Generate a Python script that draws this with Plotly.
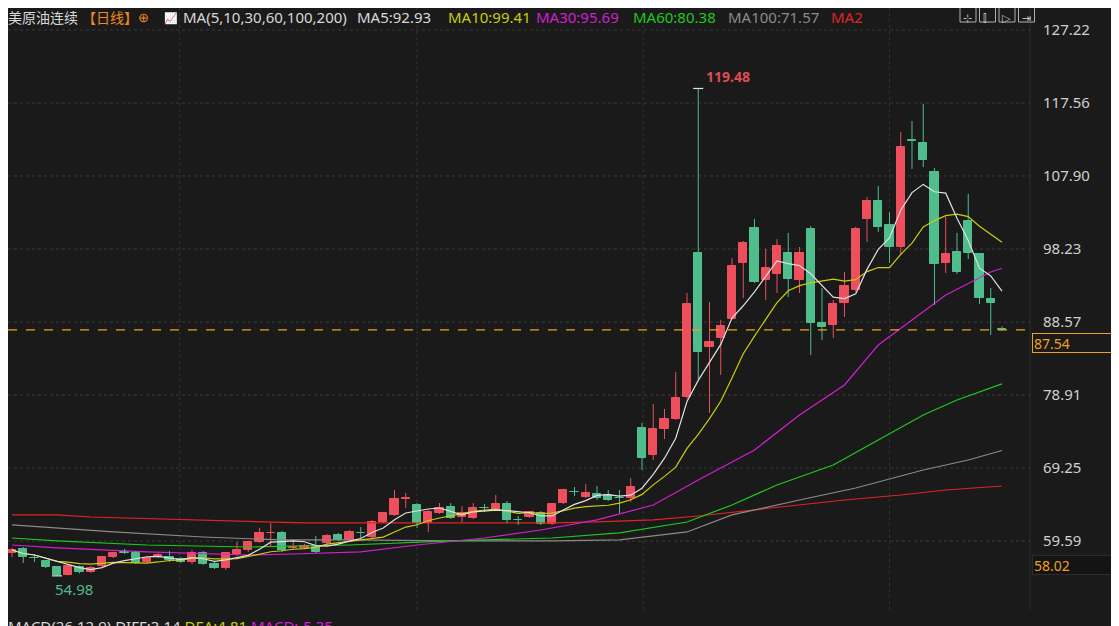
import plotly.graph_objects as go
import pandas as pd

opens = [58.01,58.53,57.40,56.95,56.15,55.10,56.15,55.49,56.29,57.48,58.14,58.01,56.82,57.48,57.48,57.21,56.82,58.01,56.55,56.02,
         57.87,58.40,59.46,60.60,60.66,58.67,58.67,58.80,59.33,60.39,59.73,60.70,60.12,62.11,63.04,65.20,64.36,61.98,63.30,64.09,
         62.77,62.64,64.00,63.70,64.49,62.42,62.77,63.30,61.85,64.62,66.12,65.42,65.81,65.68,65.32,65.28,74.55,70.97,74.42,75.74,
         78.65,97.71,85.27,86.46,88.97,96.39,101.02,94.14,94.93,97.71,94.14,100.88,88.44,88.18,91.09,92.81,102.21,104.59,101.41,98.50,
         112.60,112.27,108.43,96.39,97.84,101.94,97.58,91.62,87.70]
highs = [58.67,58.80,57.74,57.08,56.29,56.55,56.35,56.29,57.61,58.14,58.53,58.27,57.48,58.01,58.27,57.48,58.40,58.27,56.82,58.14,
         59.46,59.60,61.32,61.98,60.92,59.73,59.20,60.26,60.52,60.66,61.05,61.45,62.38,63.43,66.34,65.95,64.62,63.70,64.62,64.62,
         64.22,64.62,64.49,65.68,64.89,62.90,63.57,63.57,64.62,66.50,66.74,67.13,66.87,66.34,66.34,67.93,75.21,77.72,77.06,81.96,
         92.41,119.48,91.22,88.84,97.05,99.30,102.21,98.24,99.56,100.36,98.50,101.28,93.08,91.49,95.19,101.15,105.12,106.57,103.13,113.72,
         115.18,117.43,108.96,102.47,100.36,105.52,97.71,93.08,88.00]
lows = [57.48,56.68,56.82,56.02,54.98,55.05,55.30,55.36,56.15,57.34,57.87,56.55,56.68,57.34,56.82,56.68,56.55,56.42,55.89,55.76,
        57.61,58.14,59.33,58.80,58.14,58.53,58.53,58.01,59.06,59.60,59.60,59.99,59.99,61.98,62.90,63.96,61.32,60.79,63.17,62.51,
        62.11,62.51,63.43,63.57,61.98,61.72,62.64,61.72,61.72,64.49,65.55,65.28,65.02,64.89,63.30,64.75,68.99,70.31,73.09,75.60,
        78.40,81.03,76.53,81.56,88.84,91.75,93.74,91.49,92.41,91.88,92.41,84.21,86.20,86.46,89.24,92.55,99.16,100.49,96.39,97.44,
        108.83,109.09,90.83,95.06,94.93,96.91,90.96,86.86,87.40]
closes = [58.40,57.48,57.34,56.15,55.10,56.29,55.49,56.02,57.48,58.01,58.01,56.68,57.34,57.74,57.08,56.82,58.01,56.55,56.02,58.01,
          58.40,59.46,60.66,60.66,58.40,58.80,58.93,58.14,60.26,59.73,60.79,60.66,62.11,63.30,65.15,65.28,61.98,63.43,63.96,62.64,
          63.30,63.96,63.96,64.49,62.38,62.38,63.43,61.85,64.49,66.34,66.08,65.95,65.28,65.02,65.28,66.74,70.58,74.42,75.74,78.52,
          90.96,84.61,85.93,88.05,95.99,99.03,93.87,95.72,98.63,94.27,97.71,88.44,87.92,90.96,93.34,100.88,104.59,101.15,98.50,111.74,
          112.53,110.02,96.25,97.58,95.19,97.71,91.75,91.09,87.54]
idx = list(range(len(closes)))

# long moving averages (candle index, value)
ma30_x = [0,4,12,21,25,31,36,42,47,52,57,61,66,70,74,77,80,83,87,88]
ma30_y = [59.06,58.67,58.14,57.74,57.87,58.14,59.06,59.99,61.05,62.38,64.36,67.67,71.64,76.27,80.24,85.53,88.84,92.14,95.19,95.69]
ma60_x = [0,4,12,21,30,39,48,54,60,64,68,73,77,81,84,88]
ma60_y = [59.99,59.60,59.06,58.80,59.06,59.60,59.99,60.66,62.11,64.36,67.00,69.65,72.96,76.27,78.25,80.38]
ma100_x = [0,4,9,17,24,30,39,48,54,60,64,70,75,81,85,88]
ma100_y = [61.72,61.32,60.79,60.12,59.73,59.73,59.60,59.60,59.73,60.79,63.04,65.02,66.61,68.99,70.31,71.57]
ma200_x = [0,4,7,10,17,21,26,30,35,39,48,52,57,61,66,70,74,79,83,88]
ma200_y = [63.04,63.04,62.77,62.64,62.38,62.11,61.98,61.98,61.98,61.98,61.98,62.11,62.38,62.90,63.70,64.36,65.02,65.68,66.34,66.87]

tick_vals = [127.22,117.56,107.90,98.23,88.57,78.91,69.25,59.59]
tick_text = ["127.22","117.56","107.90","98.23","88.57","78.91","69.25","59.59"]
last_price = 87.54
low_price = 58.02
hi_mark, lo_mark = 119.48, 54.98

s = pd.Series(closes)
ma5 = s.rolling(5, min_periods=1).mean()
ma10 = s.rolling(10, min_periods=1).mean()

RED = "#ee4f5d"; GRN = "#4fbd8c"; BG = "#1a1a1a"
PW, PH = 1022, 602
def px(x): return (x - 8) / PW
def py(y): return (PH - (y - 8)) / PH

fig = go.Figure()
for xs, ys, c in [(ma200_x, ma200_y, "#e02424"), (ma100_x, ma100_y, "#8a8a8a"),
                  (ma60_x, ma60_y, "#1ec81e"), (ma30_x, ma30_y, "#d21fd2")]:
    fig.add_trace(go.Scatter(x=xs, y=ys, mode="lines", line=dict(color=c, width=1.2), hoverinfo="skip"))

for up, col in [(True, RED), (False, GRN)]:
    sel = [i for i in idx if (closes[i] >= opens[i]) == up]
    wx, wy = [], []
    for i in sel:
        wx += [i, i, None]; wy += [lows[i], highs[i], None]
    fig.add_trace(go.Scatter(x=wx, y=wy, mode="lines", line=dict(color=col, width=1), hoverinfo="skip"))
    fig.add_trace(go.Bar(x=sel, base=[min(opens[i], closes[i]) for i in sel],
                         y=[abs(closes[i] - opens[i]) for i in sel], width=0.72,
                         marker=dict(color=col, line=dict(color=col, width=1)), hoverinfo="skip"))

fig.add_trace(go.Scatter(x=idx, y=ma10, mode="lines", line=dict(color="#cccc10", width=1.2), hoverinfo="skip"))
fig.add_trace(go.Scatter(x=idx, y=ma5, mode="lines", line=dict(color="#e0e0e0", width=1.2), hoverinfo="skip"))

shapes = []
for v in tick_vals:
    shapes.append(dict(type="line", xref="paper", x0=0, x1=1, y0=v, y1=v, line=dict(color="#3a3a3a", width=1, dash="dot"), layer="below"))
for xv in [14.9, 36, 56.1, 78]:
    shapes.append(dict(type="line", yref="paper", y0=0, y1=1, x0=xv, x1=xv, line=dict(color="#333333", width=1, dash="dot"), layer="below"))
shapes.append(dict(type="line", xref="paper", x0=0, x1=1, y0=last_price, y1=last_price, line=dict(color="#f0a020", width=1.2, dash="dash")))
shapes.append(dict(type="line", x0=61-0.45, x1=61+0.45, y0=hi_mark, y1=hi_mark, line=dict(color="#e0e0e0", width=1.2)))
shapes.append(dict(type="line", x0=4-0.45, x1=4+0.45, y0=lo_mark, y1=lo_mark, line=dict(color="#e0e0e0", width=1.2)))
shapes.append(dict(type="line", xref="paper", x0=1, x1=1, yref="paper", y0=0, y1=1, line=dict(color="#2c2c2c", width=1)))
for i in range(4):
    x0 = 960 + i * 19.5
    shapes.append(dict(type="rect", xref="paper", yref="paper", x0=px(x0), x1=px(x0 + 16),
                       y0=py(22), y1=py(6), line=dict(color="#b0b0b0", width=1)))
fig.update_layout(shapes=shapes)

F = "Noto Sans CJK SC, Microsoft YaHei, sans-serif"
L = "Noto Sans, sans-serif"
ann = []
def hdr(x, text, color, size=15, fam=L):
    ann.append(dict(xref="paper", yref="paper", x=px(x), y=py(17), text=text, showarrow=False,
                    xanchor="left", yanchor="middle", font=dict(color=color, size=size, family=fam)))
hdr(6, "美原油连续", "#d8d8d8", 14, F)
hdr(80, "【日线】", "#f08a20", 14, F)
hdr(136, "⊕", "#f08a20", 13)
hdr(162, "📈", "#6080ff", 11)
hdr(181, "MA(5,10,30,60,100,200)", "#d8d8d8")
hdr(355, "MA5:92.93", "#d8d8d8")
hdr(446, "MA10:99.41", "#cccc10")
hdr(534, "MA30:95.69", "#d21fd2")
hdr(631, "MA60:80.38", "#1ec81e")
hdr(726, "MA100:71.57", "#8a8a8a")
hdr(829, "MA2", "#e02424")
for i, g in enumerate(["⊹", "⫿", "▷", "⇥"]):
    hdr(961 + i * 19.5, g, "#c0c0c0", 11)
ann.append(dict(x=61.5, y=hi_mark, text="<b>119.48</b>", showarrow=False, xanchor="left", yanchor="bottom",
                font=dict(color="#e04a55", size=14, family=L)))
ann.append(dict(x=3.6, y=lo_mark, text="54.98", showarrow=False, xanchor="left", yanchor="top",
                yshift=-1, font=dict(color="#4fbd8c", size=15, family=L)))
ann.append(dict(xref="paper", x=1.002, y=last_price, text="87.54", showarrow=False, xanchor="left", yshift=-13,
                font=dict(color="#f0a020", size=14, family=L), bordercolor="#f0a020", borderwidth=1, bgcolor=BG,
                width=80, height=16, align="left"))
ann.append(dict(xref="paper", x=1.002, y=low_price, text="58.02", showarrow=False, xanchor="left", yshift=-12,
                font=dict(color="#f0a020", size=14, family=L), bordercolor="#2c2c2c", borderwidth=1, bgcolor="#141414",
                width=80, height=16, align="left"))
ann.append(dict(xref="paper", yref="paper", x=px(6), y=py(614), text="MACD(26,12,9) DIFF:3.14 <span style='color:#cccc10'>DEA:4.81</span> <span style='color:#d21fd2'>MACD:-5.35</span>",
                showarrow=False, xanchor="left", yanchor="top", font=dict(color="#d8d8d8", size=15, family=L)))
fig.update_layout(annotations=ann)

fig.update_layout(width=1119, height=626, margin=dict(l=0, r=97, t=0, b=24),
    paper_bgcolor=BG, plot_bgcolor=BG, showlegend=False, bargap=0,
    xaxis=dict(range=[-0.356, 90.49], showgrid=False, zeroline=False, showticklabels=False, fixedrange=True),
    yaxis=dict(range=[50.46, 130.13], side="right", showgrid=False, zeroline=False,
               tickvals=tick_vals, ticktext=tick_text, ticks="", ticklabelstandoff=12,
               tickfont=dict(color="#d0d0d0", size=15, family=L)))
fig.write_html("out.html")
